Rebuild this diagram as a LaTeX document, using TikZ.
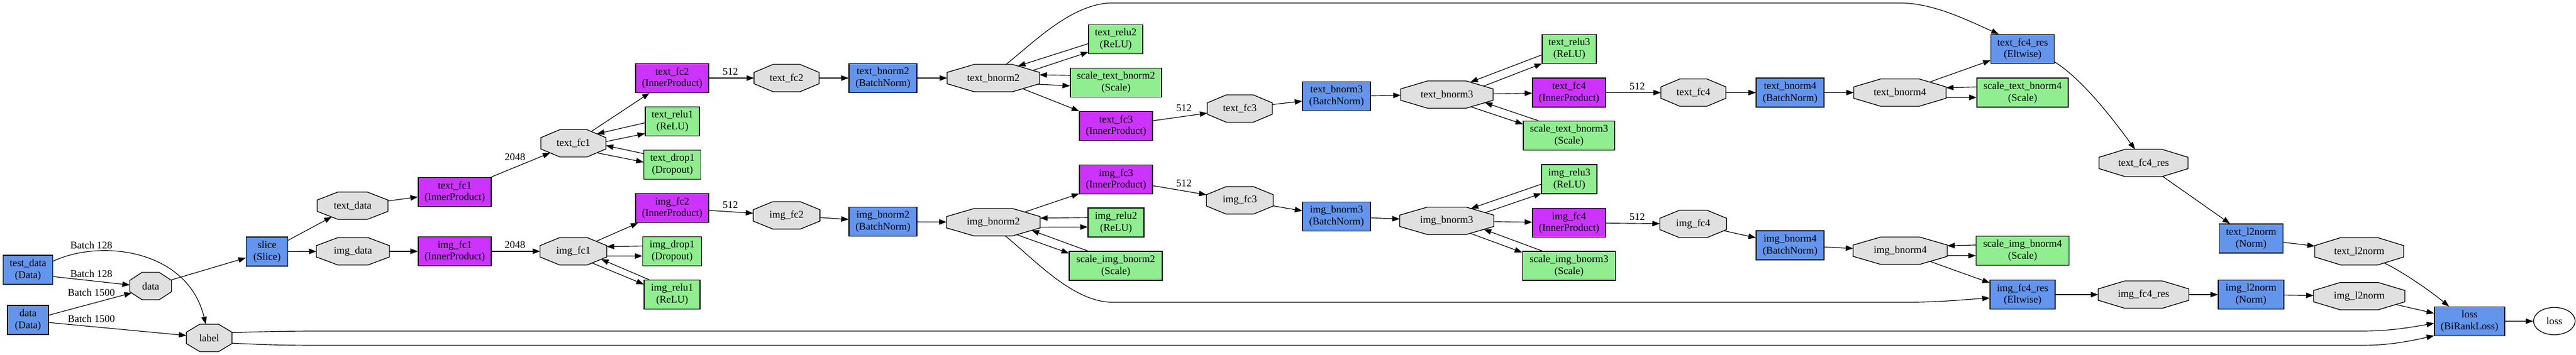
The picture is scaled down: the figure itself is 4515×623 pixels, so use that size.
\documentclass[tikz,border=0pt]{standalone}
\usepackage{fontspec}
\setmainfont{Liberation Serif}
\usetikzlibrary{arrows.meta,shapes.geometric}
\definecolor{cfblue}{HTML}{6495ED}
\definecolor{ipurple}{HTML}{CC33FF}
\definecolor{ngreen}{HTML}{90EE90}
\definecolor{blobgray}{HTML}{E0E0E0}
\makeatletter
\pgfdeclareshape{octabox}{%
  \inheritsavedanchors[from=rectangle]%
  \inheritanchor[from=rectangle]{center}%
  \inheritanchor[from=rectangle]{north}%
  \inheritanchor[from=rectangle]{south}%
  \inheritanchor[from=rectangle]{east}%
  \inheritanchor[from=rectangle]{west}%
  \inheritanchor[from=rectangle]{text}%
  \inheritanchor[from=rectangle]{base}%
  \inheritanchor[from=rectangle]{mid}%
  \backgroundpath{%
    \pgf@process{\southwest}\pgf@xa=\pgf@x \pgf@ya=\pgf@y
    \pgf@process{\northeast}\pgf@xb=\pgf@x \pgf@yb=\pgf@y
    \pgf@xc=\pgf@xb \advance\pgf@xc by -\pgf@xa \pgf@xc=0.29289\pgf@xc
    \pgf@yc=\pgf@yb \advance\pgf@yc by -\pgf@ya \pgf@yc=0.29289\pgf@yc
    \edef\oc@xa{\the\pgf@xa}\edef\oc@xb{\the\pgf@xb}%
    \edef\oc@ya{\the\pgf@ya}\edef\oc@yb{\the\pgf@yb}%
    \advance\pgf@xa by \pgf@xc \edef\oc@xal{\the\pgf@xa}%
    \advance\pgf@xb by -\pgf@xc \edef\oc@xbl{\the\pgf@xb}%
    \advance\pgf@ya by \pgf@yc \edef\oc@yal{\the\pgf@ya}%
    \advance\pgf@yb by -\pgf@yc \edef\oc@ybl{\the\pgf@yb}%
    \pgfpathmoveto{\pgfqpoint{\oc@xal}{\oc@ya}}%
    \pgfpathlineto{\pgfqpoint{\oc@xbl}{\oc@ya}}%
    \pgfpathlineto{\pgfqpoint{\oc@xb}{\oc@yal}}%
    \pgfpathlineto{\pgfqpoint{\oc@xb}{\oc@ybl}}%
    \pgfpathlineto{\pgfqpoint{\oc@xbl}{\oc@yb}}%
    \pgfpathlineto{\pgfqpoint{\oc@xal}{\oc@yb}}%
    \pgfpathlineto{\pgfqpoint{\oc@xa}{\oc@ybl}}%
    \pgfpathlineto{\pgfqpoint{\oc@xa}{\oc@yal}}%
    \pgfpathclose
  }%
  \anchorborder{%
    \edef\oc@dx{\the\pgf@x}\edef\oc@dy{\the\pgf@y}%
    \pgf@process{\southwest}\pgf@xa=\pgf@x \pgf@ya=\pgf@y
    \pgf@process{\northeast}\pgf@xb=\pgf@x \pgf@yb=\pgf@y
    \pgf@xc=\pgf@xb \advance\pgf@xc by -\pgf@xa \pgf@xc=.5\pgf@xc
    \pgf@yc=\pgf@yb \advance\pgf@yc by -\pgf@ya \pgf@yc=.5\pgf@yc
    \edef\oc@a{\the\pgf@xc}\edef\oc@b{\the\pgf@yc}%
    \advance\pgf@xa by \pgf@xc \advance\pgf@ya by \pgf@yc
    \edef\oc@cx{\the\pgf@xa}\edef\oc@cy{\the\pgf@ya}%
    \pgfmathsetmacro\oc@adx{max(abs(\oc@dx),0.01)}%
    \pgfmathsetmacro\oc@ady{max(abs(\oc@dy),0.01)}%
    \pgfmathsetmacro\oc@t{min(min(\oc@a/\oc@adx,\oc@b/\oc@ady),1.41421/(\oc@adx/\oc@a+\oc@ady/\oc@b))}%
    \pgfmathsetmacro\oc@rx{\oc@cx+\oc@t*\oc@dx}%
    \pgfmathsetmacro\oc@ry{\oc@cy+\oc@t*\oc@dy}%
    \pgf@x=\oc@rx pt\relax
    \pgf@y=\oc@ry pt\relax
  }%
}
\makeatother
\tikzset{
  txt/.style={font=\fontsize{18}{20.7}\selectfont},
  layer/.style={txt, rectangle, draw=black, line width=1.3pt, minimum height=51pt, inner sep=0pt, align=center},
  lyblue/.style={layer, fill=cfblue, minimum width=#1pt},
  lypurple/.style={layer, fill=ipurple, minimum width=#1pt},
  lygreen/.style={layer, fill=ngreen, minimum width=#1pt},
  blob/.style={txt, shape=octabox, draw=black, fill=blobgray, line width=1.3pt, minimum height=48pt,
     minimum width=#1pt, inner sep=0pt, outer sep=0pt},
  lbl/.style={txt, inner sep=0pt},
  edge/.style={line width=1.15pt, -{Triangle[length=13pt,width=9.5pt]}},
}
\begin{document}
\begin{tikzpicture}[x=1pt,y=-1pt]
\fill[white] (0,0) rectangle (4515,623);
\useasboundingbox (0,0) rectangle (4515,623);
% layers
\node[lyblue=87] (tdL) at (49,473.5) {test\_data\\(Data)};
\node[lyblue=72] (dL) at (49,561.5) {data\\(Data)};
\node[lyblue=73] (slice) at (468,441.5) {slice\\(Slice)};
\node[lypurple=128] (tfc1L) at (797,337) {text\_fc1\\(InnerProduct)};
\node[lypurple=128] (ifc1L) at (797,441) {img\_fc1\\(InnerProduct)};
\node[lypurple=128] (tfc2L) at (1178,137) {text\_fc2\\(InnerProduct)};
\node[lygreen=95] (trelu1) at (1178.5,213) {text\_relu1\\(ReLU)};
\node[lygreen=100] (tdrop1) at (1178.6,289) {text\_drop1\\(Dropout)};
\node[lypurple=128] (ifc2L) at (1178,365) {img\_fc2\\(InnerProduct)};
\node[lygreen=103] (idrop1) at (1178,441) {img\_drop1\\(Dropout)};
\node[lygreen=98] (irelu1) at (1178,517) {img\_relu1\\(ReLU)};
\node[lyblue=119] (tbn2L) at (1547.5,137) {text\_bnorm2\\(BatchNorm)};
\node[lyblue=119] (ibn2L) at (1547.5,389) {img\_bnorm2\\(BatchNorm)};
\node[lygreen=95] (trelu2) at (1955.5,69) {text\_relu2\\(ReLU)};
\node[lygreen=160] (tsc2) at (1956,145) {scale\_text\_bnorm2\\(Scale)};
\node[lypurple=128] (tfc3L) at (1956,221) {text\_fc3\\(InnerProduct)};
\node[lypurple=128] (ifc3L) at (1956,315) {img\_fc3\\(InnerProduct)};
\node[lygreen=98] (irelu2) at (1956,390.5) {img\_relu2\\(ReLU)};
\node[lygreen=163] (isc2) at (1955.6,466.5) {scale\_img\_bnorm2\\(Scale)};
\node[lyblue=119] (tbn3L) at (2342.6,169) {text\_bnorm3\\(BatchNorm)};
\node[lyblue=119] (ibn3L) at (2342.6,380) {img\_bnorm3\\(BatchNorm)};
\node[lygreen=95] (trelu3) at (2750.6,86) {text\_relu3\\(ReLU)};
\node[lypurple=128] (tfc4L) at (2750,162.5) {text\_fc4\\(InnerProduct)};
\node[lygreen=160] (tsc3) at (2750,238) {scale\_text\_bnorm3\\(Scale)};
\node[lygreen=97] (irelu3) at (2750.6,314.5) {img\_relu3\\(ReLU)};
\node[lypurple=128] (ifc4L) at (2750,391) {img\_fc4\\(InnerProduct)};
\node[lygreen=163] (isc3) at (2750,466.5) {scale\_img\_bnorm3\\(Scale)};
\node[lyblue=119] (tbn4L) at (3137.6,162.5) {text\_bnorm4\\(BatchNorm)};
\node[lyblue=119] (ibn4L) at (3137.6,430.6) {img\_bnorm4\\(BatchNorm)};
\node[lyblue=111] (tres) at (3545,86) {text\_fc4\_res\\(Eltwise)};
\node[lygreen=160] (tsc4) at (3545,162.5) {scale\_text\_bnorm4\\(Scale)};
\node[lygreen=163] (isc4) at (3545,440) {scale\_img\_bnorm4\\(Scale)};
\node[lyblue=114] (ires) at (3545,517) {img\_fc4\_res\\(Eltwise)};
\node[lyblue=112] (tl2L) at (3945.6,418.6) {text\_l2norm\\(Norm)};
\node[lyblue=115] (il2L) at (3945.4,517) {img\_l2norm\\(Norm)};
\node[lyblue=123] (lossL) at (4328.4,564) {loss\\(BiRankLoss)};
% blobs
\node[blob=73] (dB) at (264,502) {data};
\node[blob=80] (labelB) at (366.6,593) {label};
\node[blob=124] (tdB) at (618,361) {text\_data};
\node[blob=128] (idB) at (618.5,441) {img\_data};
\node[blob=114] (tfc1B) at (1005,251.5) {text\_fc1};
\node[blob=117] (ifc1B) at (1005,441) {img\_fc1};
\node[blob=114] (tfc2B) at (1378.6,137) {text\_fc2};
\node[blob=117] (ifc2B) at (1378.6,378) {img\_fc2};
\node[blob=162] (tbn2B) at (1741,137) {text\_bnorm2};
\node[blob=164] (ibn2B) at (1741,390) {img\_bnorm2};
\node[blob=114] (tfc3B) at (2173,190.5) {text\_fc3};
\node[blob=117] (ifc3B) at (2173,351.6) {img\_fc3};
\node[blob=162] (tbn3B) at (2536,166) {text\_bnorm3};
\node[blob=165] (ibn3B) at (2535.7,387.5) {img\_bnorm3};
\node[blob=114] (tfc4B) at (2968,162.5) {text\_fc4};
\node[blob=117] (ifc4B) at (2967.7,393) {img\_fc4};
\node[blob=162] (tbn4B) at (3330,162.5) {text\_bnorm4};
\node[blob=165] (ibn4B) at (3330.5,440) {img\_bnorm4};
\node[blob=156] (tresB) at (3757,286) {text\_fc4\_res};
\node[blob=159] (iresB) at (3757,517) {img\_fc4\_res};
\node[blob=156] (tl2B) at (4135,441) {text\_l2norm};
\node[blob=160] (il2B) at (4135,519.7) {img\_l2norm};
\node[txt, ellipse, draw=black, line width=1.3pt, minimum width=73pt, minimum height=48pt, inner sep=0pt] (lossE) at (4477,563.5) {loss};
% edge labels
\node[lbl] (b1) at (160,430) {Batch 128};
\node[lbl] (b2) at (160,480) {Batch 128};
\node[lbl] (b3) at (160,513) {Batch 1500};
\node[lbl] (b4) at (160,559) {Batch 1500};
\node[lbl] (n1) at (902.7,276) {2048};
\node[lbl] (n2) at (902.7,430) {2048};
\node[lbl] (n3) at (1280,126) {512};
\node[lbl] (n4) at (1280,360) {512};
\node[lbl] (n5) at (2075,190) {512};
\node[lbl] (n6) at (2075,322) {512};
\node[lbl] (n7) at (2869.6,152) {512};
\node[lbl] (n8) at (2869.6,381) {512};
% edges
\draw[edge] (tdL.-15.6) -- (dB.177.9);
\draw[edge] (tdL.19.6) .. controls (180,418) and (330,440) .. (labelB.104.8);
\draw[edge] (dL.13.2) -- (dB.200.7);
\draw[edge] (dL.-7.1) -- (labelB.174.3);
\draw[edge] (dB) -- (slice);
\draw[edge] (slice) -- (tdB);
\draw[edge] (slice) -- (idB);
\draw[edge] (tdB) -- (tfc1L);
\draw[edge] (tfc1L) -- (tfc1B);
\draw[edge] (idB) -- (ifc1L);
\draw[edge] (ifc1L) -- (ifc1B);
\draw[edge] (tfc1B) -- (tfc2L);
\draw[edge] (trelu1.183.2) -- (tfc1B.22.4);
\draw[edge] (tfc1B.3.9) -- (trelu1.204.2);
\draw[edge] (tdrop1.159.2) -- (tfc1B.-4.5);
\draw[edge] (tfc1B.-22.6) -- (tdrop1.175.4);
\draw[edge] (ifc1B) -- (ifc2L);
\draw[edge] (idrop1.170) -- (ifc1B.8.8);
\draw[edge] (ifc1B.-8.5) -- (idrop1.189.6);
\draw[edge] (irelu1.147.3) -- (ifc1B.-16.1);
\draw[edge] (ifc1B.-32.5) -- (irelu1.160.1);
\draw[edge] (tfc2L) -- (tfc2B);
\draw[edge] (tfc2B) -- (tbn2L);
\draw[edge] (tbn2L) -- (tbn2B);
\draw[edge] (ifc2L) -- (ifc2B);
\draw[edge] (ifc2B) -- (ibn2L);
\draw[edge] (ibn2L) -- (ibn2B);
\draw[edge] (trelu2.189.2) -- (tbn2B.26.2);
\draw[edge] (tbn2B.11.2) -- (trelu2.205.8);
\draw[edge] (tsc2.171.8) -- (tbn2B.4.2);
\draw[edge] (tbn2B.-8.4) -- (tsc2.184.3);
\draw[edge] (tbn2B.-20.8) -- (tfc3L.158.7);
\draw[edge] (tfc3L) -- (tfc3B);
\draw[edge] (tfc3B.7.7) -- (tbn3L.188.2);
\draw[edge] (tbn3L) -- (tbn3B);
\draw[edge] (ibn2B.18.7) -- (ifc3L.201);
\draw[edge] (irelu2.170.8) -- (ibn2B.5.9);
\draw[edge] (ibn2B.-6.4) -- (irelu2.189.3);
\draw[edge] (isc2.152.4) -- (ibn2B.-12.8);
\draw[edge] (ibn2B.-28.1) -- (isc2.165.2);
\draw[edge] (ifc3L) -- (ifc3B);
\draw[edge] (ifc3B) -- (ibn3L);
\draw[edge] (ibn3L) -- (ibn3B);
\draw[edge] (trelu3.192.4) -- (tbn3B.28.6);
\draw[edge] (tbn3B.13.7) -- (trelu3.208.6);
\draw[edge] (tbn3B) -- (tfc4L);
\draw[edge] (tsc3.154.6) -- (tbn3B.-12.5);
\draw[edge] (tbn3B.-27.1) -- (tsc3.166.8);
\draw[edge] (irelu3.190.8) -- (ibn3B.27.1);
\draw[edge] (ibn3B.12.3) -- (irelu3.207.3);
\draw[edge] (ibn3B) -- (ifc4L);
\draw[edge] (isc3.151.7) -- (ibn3B.-13.4);
\draw[edge] (ibn3B.-28.5) -- (isc3.164.4);
\draw[edge] (tfc4L) -- (tfc4B);
\draw[edge] (tfc4B) -- (tbn4L);
\draw[edge] (tbn4L) -- (tbn4B);
\draw[edge] (ifc4L) -- (ifc4B);
\draw[edge] (ifc4B) -- (ibn4L);
\draw[edge] (ibn4L) -- (ibn4B);
\draw[edge] (tbn4B) -- (tres);
\draw[edge] (tsc4.173.5) -- (tbn4B.6);
\draw[edge] (tbn4B.-6.7) -- (tsc4.186.5);
\draw[edge] (isc4.173.7) -- (ibn4B.6.2);
\draw[edge] (ibn4B.-6.2) -- (isc4.186.3);
\draw[edge] (ibn4B) -- (ires);
\draw[edge] (tbn2B.47.9) .. controls +(50,-40) and +(-70,0) .. (1950,5.2) -- (3330,5.2) .. controls +(60,0) and +(-50,-22) .. (tres.148.7);
\draw[edge] (ibn2B.-49.3) .. controls +(50,40) and +(-70,0) .. (1950,530.4) -- (3340,530.4) .. controls +(60,0) and +(-50,3) .. (ires.186.6);
\draw[edge] (tres.-22.4) .. controls +(50,31) and +(-35,-48) .. (tresB.122.3);
\draw[edge] (tresB) -- (tl2L);
\draw[edge] (ires) -- (iresB);
\draw[edge] (iresB) -- (il2L);
\draw[edge] (tl2L) -- (tl2B);
\draw[edge] (il2L) -- (il2B);
\draw[edge] (tl2B.-25.7) .. controls +(35,17) and +(-30,-25) .. (lossL.144.1);
\draw[edge] (il2B) -- (lossL);
\draw[edge] (labelB.13.6) .. controls +(60,-2) and +(-60,0) .. (560,581) -- (4140,581) .. controls +(50,0) and +(-40,7) .. (lossL.183.7);
\draw[edge] (labelB.-13.9) .. controls +(60,3) and +(-60,0) .. (560,606) -- (4140,606) .. controls +(50,0) and +(-40,9) .. (lossL.202.9);
\draw[edge] (lossL) -- (lossE);
\end{tikzpicture}
\end{document}
